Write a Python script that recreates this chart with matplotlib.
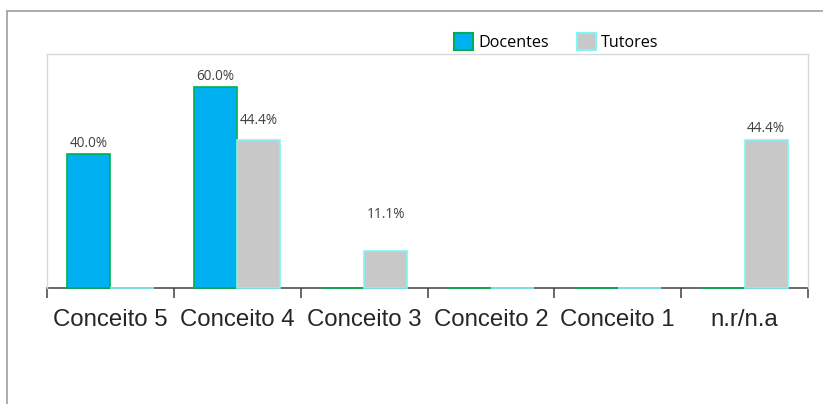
import matplotlib
matplotlib.use("Agg")
import matplotlib.pyplot as plt
from matplotlib.lines import Line2D
import numpy as np

categories = ["Conceito 5", "Conceito 4", "Conceito 3", "Conceito 2", "Conceito 1", "n.r/n.a"]
docentes = [40.0, 60.0, 0.0, 0.0, 0.0, 0.0]
tutores = [0.0, 44.4, 11.1, 0.0, 0.0, 44.4]
series_names = ["Docentes", "Tutores"]

W, H = 823, 404
fig = plt.figure(figsize=(W / 100, H / 100), dpi=100)
fig.patch.set_facecolor("white")

# outer frame (top and left edges)
fig.add_artist(Line2D([7 / W, 1.0], [1 - 11 / H, 1 - 11 / H], transform=fig.transFigure,
                      color="#a6a6a6", lw=1.3))
fig.add_artist(Line2D([7 / W, 7 / W], [0, 1 - 11 / H], transform=fig.transFigure,
                      color="#a6a6a6", lw=1.3))

left, right, bottom, top = 47 / W, 808 / W, 1 - 288 / H, 1 - 54 / H
ax = fig.add_axes([left, bottom, right - left, top - bottom])

x = np.arange(len(categories))
bw = 0.34
b1 = ax.bar(x - bw / 2, docentes, bw, color="#00b0f0", edgecolor="#00b050", linewidth=1.2,
            label=series_names[0], zorder=3, clip_on=False)
b2 = ax.bar(x + bw / 2, tutores, bw, color="#c8c8c8", edgecolor="#7ff5f5", linewidth=1.2,
            label=series_names[1], zorder=3, clip_on=False)

ax.set_xlim(-0.5, len(categories) - 0.5)
ax.set_ylim(0, 70)
ax.set_yticks([])

# category boundaries as ticks, labels centred on categories
ax.set_xticks(np.arange(len(categories) + 1) - 0.5)
ax.set_xticklabels([])
ax.set_xticks(x, minor=True)
ax.set_xticklabels(categories, minor=True, fontsize=17.3, family="Liberation Sans", color="#262626")
ax.tick_params(axis="x", which="major", direction="out", length=7, width=1.1, color="#404040")
ax.tick_params(axis="x", which="minor", length=0, pad=15)

for s in ["left", "top", "right"]:
    ax.spines[s].set_color("#d9d9d9")
    ax.spines[s].set_linewidth(1.0)
ax.spines["bottom"].set_color("#404040")
ax.spines["bottom"].set_linewidth(1.1)
ax.spines["bottom"].set_zorder(2)

# value labels (only non-zero values)
label_gap = {(0, 0): 3, (0, 1): 3, (1, 1): 12, (1, 2): 29, (1, 5): 4}
for si, (bars, vals) in enumerate([(b1, docentes), (b2, tutores)]):
    for ci, (rect, v) in enumerate(zip(bars, vals)):
        if v <= 0:
            continue
        gap = label_gap.get((si, ci), 3)
        ax.annotate(f"{v:.1f}%", (rect.get_x() + rect.get_width() / 2, v),
                    xytext=(0, gap * 0.72), textcoords="offset points",
                    ha="center", va="bottom", fontsize=9.8, family="Open Sans", color="#404040")

fig.legend(handles=[b1, b2], labels=series_names, loc="center left",
           bbox_to_anchor=(454 / W, 1 - 42 / H), bbox_transform=fig.transFigure,
           ncol=2, frameon=False, prop={"family": "Open Sans", "size": 11.6},
           handlelength=1.15, handleheight=1.2, handletextpad=0.35, columnspacing=1.75,
           borderaxespad=0, borderpad=0)
for h in fig.legends[0].legend_handles:
    h.set_linewidth(1.5)

fig.savefig("out.png", dpi=100, facecolor="white")
